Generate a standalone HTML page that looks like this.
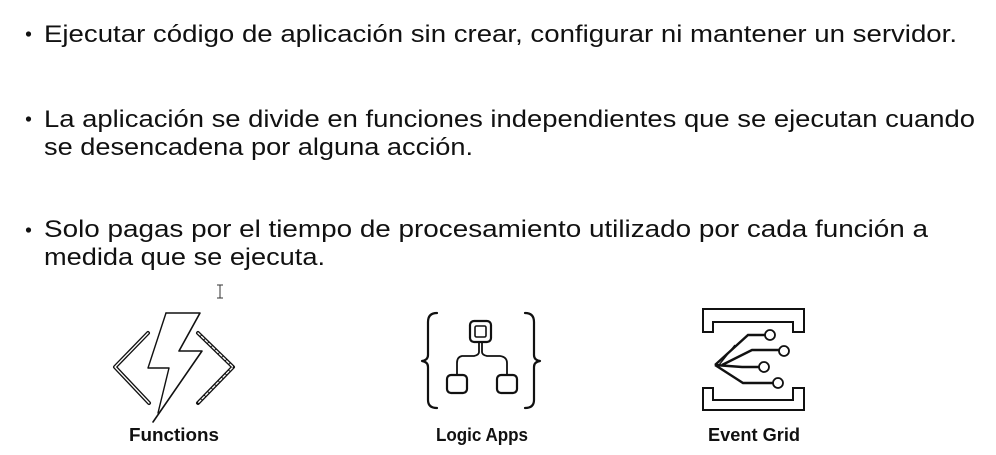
<!DOCTYPE html>
<html><head><meta charset="utf-8"><style>
html,body{margin:0;padding:0;background:#fff;}
svg{display:block;}
text{font-family:"Liberation Sans",sans-serif;fill:#111;}
</style></head><body>
<svg width="996" height="455" viewBox="0 0 996 455" xmlns="http://www.w3.org/2000/svg">
<g font-size="24">
<circle cx="28.5" cy="34" r="2.6" fill="#111"/>
<text x="44" y="42" textLength="913" lengthAdjust="spacingAndGlyphs">Ejecutar código de aplicación sin crear, configurar ni mantener un servidor.</text>
<circle cx="28.5" cy="119" r="2.6" fill="#111"/>
<text x="44" y="127" textLength="931" lengthAdjust="spacingAndGlyphs">La aplicación se divide en funciones independientes que se ejecutan cuando</text>
<text x="44" y="155" textLength="429" lengthAdjust="spacingAndGlyphs">se desencadena por alguna acción.</text>
<circle cx="28.5" cy="230" r="2.6" fill="#111"/>
<text x="44" y="237" textLength="884" lengthAdjust="spacingAndGlyphs">Solo pagas por el tiempo de procesamiento utilizado por cada función a</text>
<text x="44" y="265" textLength="281" lengthAdjust="spacingAndGlyphs">medida que se ejecuta.</text>
</g>
<!-- cursor -->
<g stroke="#333" stroke-width="1" fill="none">
<path d="M220 285v13M217 285h6M217 298h6"/>
</g>
<!-- Functions icon -->
<g fill="none" stroke="#111" stroke-linecap="round" stroke-linejoin="round">
<path d="M148 333L115 367L149 403" stroke-width="4"/>
<path d="M148 333L115 367L149 403" stroke="#fff" stroke-width="1.3"/>
<path d="M198 333L233 367L198 403" stroke-width="4"/>
<path d="M198 333L233 367L198 403" stroke="#fff" stroke-width="1.3" stroke-dasharray="3 2"/>
<path d="M166 313H200L179 351H202L153 422" stroke-width="1.6"/>
<path d="M166 313L148 368H169L158 413" stroke-width="1.4"/>
</g>
<!-- Logic Apps icon -->
<g fill="none" stroke="#111" stroke-width="2.2" stroke-linecap="round" stroke-linejoin="round">
<path d="M437 313Q428 313 428 322V355Q428 360 422 361Q428 362 428 367V400Q428 408 437 408"/>
<path d="M525 313Q534 313 534 322V355Q534 360 540 361Q534 362 534 367V400Q534 408 525 408"/>
<rect x="470" y="321" width="21" height="21" rx="4"/>
<rect x="475" y="326" width="11" height="11" rx="1.5" stroke-width="1.6"/>
<path d="M479 342V352Q479 355 474 356H462Q457 357 457 363V375" stroke-width="1.8"/>
<path d="M482 342V352Q482 355 487 356H500Q507 357 507 363V375" stroke-width="1.8"/>
<rect x="447" y="375" width="20" height="18" rx="4"/>
<rect x="497" y="375" width="20" height="18" rx="4"/>
</g>
<!-- Event Grid icon -->
<g fill="none" stroke="#111" stroke-width="2" stroke-linejoin="miter">
<path d="M713 332H703V309H804V332H793V322H713Z"/>
<path d="M713 388H703V410H804V388H793V400H713Z"/>
<g stroke-width="2.4">
<path d="M715 365L748 335H765"/>
<path d="M722 365L752 350H779"/>
<path d="M715 365L742 367H759"/>
<path d="M715 365L743 383H773"/>
<path d="M719 365L735 345" stroke-width="1.4"/>
</g>
<g stroke-width="1.8">
<circle cx="770" cy="335" r="5"/>
<circle cx="784" cy="351" r="5"/>
<circle cx="764" cy="367" r="5"/>
<circle cx="778" cy="383" r="5"/>
</g>
</g>
<g font-size="18" font-weight="bold">
<text x="174" y="441" text-anchor="middle" textLength="90" lengthAdjust="spacingAndGlyphs">Functions</text>
<text x="482" y="441" text-anchor="middle" textLength="92" lengthAdjust="spacingAndGlyphs">Logic Apps</text>
<text x="754" y="441" text-anchor="middle" textLength="92" lengthAdjust="spacingAndGlyphs">Event Grid</text>
</g>
</svg>
</body></html>
